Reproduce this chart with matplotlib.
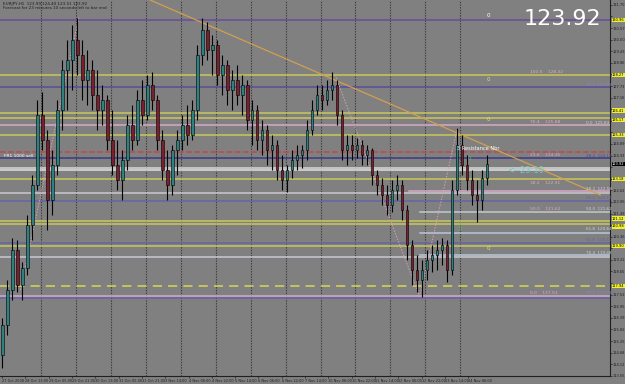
import numpy as np
import matplotlib
matplotlib.use("Agg")
import matplotlib.pyplot as plt

# candle data (EURJPY, one candle ~ 3.4 hours of the original H1 chart)
opens = [114.57, 116.03, 117.75, 119.70, 117.99, 118.82, 120.93, 122.89, 126.31, 125.09,
         122.15, 123.86, 126.56, 128.51, 129.00, 129.98, 129.25, 128.02, 128.51, 127.29,
         126.56, 127.05, 125.09, 123.86, 123.13, 124.11, 125.82, 125.09, 127.05, 126.31,
         127.78, 127.05, 125.09, 123.62, 122.89, 124.60, 125.09, 125.82, 125.33, 126.56,
         129.25, 130.47, 129.49, 129.74, 128.27, 128.76, 127.54, 128.02, 127.29, 127.78,
         126.07, 126.56, 125.09, 125.58, 124.60, 124.84, 123.62, 123.13, 123.62, 124.11,
         124.35, 124.60, 125.58, 126.56, 127.29, 127.05, 127.54, 127.78, 126.31, 124.60,
         124.84, 124.60, 124.84, 124.35, 124.60, 123.38, 122.89, 122.40, 121.91, 122.64,
         122.89, 121.66, 119.95, 118.73, 118.24, 118.73, 119.22, 119.46, 119.70, 119.95,
         118.73, 122.64, 124.84, 123.86, 123.13, 122.40, 122.15, 123.23]
highs = [116.38, 118.24, 120.29, 120.19, 119.12, 121.42, 123.38, 127.05, 127.44, 125.58,
         124.60, 127.05, 129.00, 129.98, 130.72, 131.06, 129.98, 129.49, 129.00, 128.51,
         127.78, 127.29, 126.56, 125.09, 124.60, 126.31, 126.80, 127.54, 128.02, 128.27,
         128.42, 127.29, 125.58, 124.60, 124.84, 125.58, 126.31, 126.80, 127.05, 129.74,
         131.06, 130.86, 130.23, 129.98, 129.25, 129.00, 128.51, 128.76, 128.27, 128.02,
         127.05, 126.80, 126.07, 125.82, 125.33, 125.09, 124.35, 123.86, 124.60, 124.84,
         124.84, 126.07, 127.05, 127.78, 127.78, 128.02, 128.42, 128.02, 126.56, 125.33,
         125.33, 125.19, 125.09, 124.84, 124.70, 123.62, 123.23, 122.89, 123.13, 123.38,
         123.13, 121.91, 120.19, 119.46, 119.22, 119.70, 119.95, 120.19, 120.29, 120.19,
         123.13, 125.68, 125.33, 124.35, 123.62, 123.13, 123.62, 124.35]
lows = [113.93, 115.55, 117.26, 117.65, 117.26, 118.48, 120.19, 122.64, 124.60, 120.68,
        121.42, 123.38, 125.58, 126.56, 127.54, 128.27, 127.05, 126.80, 126.56, 125.58,
        125.82, 124.60, 123.38, 122.64, 122.15, 123.62, 124.60, 124.84, 125.82, 126.07,
        126.56, 124.60, 123.13, 122.15, 122.40, 123.38, 124.60, 124.84, 125.09, 126.07,
        128.76, 129.00, 128.27, 127.78, 127.29, 126.80, 126.56, 126.80, 126.31, 125.58,
        124.84, 124.60, 124.35, 123.86, 123.62, 123.13, 122.64, 122.54, 123.23, 123.62,
        123.72, 124.11, 125.33, 126.31, 126.56, 126.80, 127.05, 125.82, 124.11, 123.86,
        124.11, 124.21, 123.86, 123.86, 122.89, 122.40, 121.91, 121.42, 121.56, 122.15,
        121.17, 119.22, 117.99, 117.65, 117.41, 118.24, 118.63, 118.73, 118.97, 118.14,
        118.48, 122.40, 123.38, 122.64, 121.91, 121.08, 121.66, 122.89]
closes = [116.03, 117.75, 119.70, 117.99, 118.82, 120.93, 122.89, 126.31, 125.09, 122.15,
          123.86, 126.56, 128.51, 129.00, 129.98, 129.25, 128.02, 128.51, 127.29, 126.56,
          127.05, 125.09, 123.86, 123.13, 124.11, 125.82, 125.09, 127.05, 126.31, 127.78,
          127.05, 125.09, 123.62, 122.89, 124.60, 125.09, 125.82, 125.33, 126.56, 129.25,
          130.47, 129.49, 129.74, 128.27, 128.76, 127.54, 128.02, 127.29, 127.78, 126.07,
          126.56, 125.09, 125.58, 124.60, 124.84, 123.62, 123.13, 123.62, 124.11, 124.35,
          124.60, 125.58, 126.56, 127.29, 127.05, 127.54, 127.78, 126.31, 124.60, 124.84,
          124.60, 124.84, 124.35, 124.60, 123.38, 122.89, 122.40, 121.91, 122.64, 122.89,
          121.66, 119.95, 118.73, 118.24, 118.73, 119.22, 119.46, 119.70, 119.95, 118.73,
          122.64, 124.84, 123.86, 123.13, 122.40, 122.15, 123.23, 123.91]
hours_per_candle = 3.43

# horizontal levels: price, colour, style, start hour
level_prices = [130.96, 128.27, 127.68, 126.41, 126.17, 125.82, 125.33, 124.50, 124.21,
                123.72, 123.62, 123.18, 122.59, 122.49, 122.10, 121.56, 121.12, 120.98,
                120.54, 120.05, 119.90, 119.46, 119.36, 117.94, 117.45, 117.38]
level_colors = ['#6a4a9c', '#c8c85a', '#5a4e9a', '#c8c85a', '#c8c85a', '#d8a8c8', '#c8c85a',
                '#c04848', '#3a3a8a', '#d8d8d8', '#e0e0e0', '#c8c85a', '#d8a8c8', '#c8c8d0',
                '#6464a8', '#c0c8d0', '#c8c85a', '#c8c85a', '#b8c8d8', '#6464a8', '#c8c85a',
                '#b8c8d8', '#c8c8d0', '#d8d850', '#d8a8c8', '#6464a8']
level_styles = ['-', '-', '-', '-', '-', '-', '-', '--', '-', '-', '-', '-', '-', '-',
                '-', '-', '-', '-', '-', '-', '-', '-', '-', (0, (6, 4)), '-', '-']
level_start = [0, 0, 0, 0, 0, 0, 0, 0, 0, 0, 0, 0, 281, 0, 0, 288, 0, 0, 288, 0, 0, 288,
               0, 0, 0, 0]
yellow_tags = [130.96, 128.27, 126.41, 126.17, 125.33, 123.18, 121.12, 120.98, 119.90, 117.94]
last_price = 123.92

# fibonacci labels
fib_left_pct = ['100.0', '76.4', '23.6', '38.2', '50.0', '0.0']
fib_left_price = [128.32, 125.88, 124.26, 122.91, 121.62, 117.51]
fib_right_pct = ['76.4', '0.0', '38.2', '38.2', '50.0', '50.0', '61.8', '61.8', '76.4', '76.4']
fib_right_price = [127.69, 125.84, 124.19, 122.58, 122.17, 121.62, 120.64, 120.10, 119.48, 117.49]
fib_right_colors = ['#8a80c8', '#d0d0d0', '#4a4aa0', '#d0d0d0', '#6464a8', '#d0d0d0',
                    '#d0d0d0', '#6464a8', '#d0d0d0', '#8a80c8']

# trend line and fibo diagonals (hour, price)
trend_x = [103, 412]
trend_y = [131.94, 122.40]
diag_x = [[14, 54], [230, 288], [288, 314]]
diag_y = [[117.75, 131.06], [128.27, 117.41], [117.41, 125.68]]

# time axis labels every 16 hours
date_labels = ['27 Oct 2008', '28 Oct 13:00', '29 Oct 05:00', '29 Oct 21:00', '30 Oct 13:00',
               '31 Oct 05:00', '31 Oct 21:00', '3 Nov 14:00', '4 Nov 06:00', '4 Nov 22:00',
               '5 Nov 14:00', '6 Nov 06:00', '6 Nov 22:00', '7 Nov 14:00', '10 Nov 06:00',
               '10 Nov 22:00', '11 Nov 14:00', '12 Nov 06:00', '12 Nov 22:00', '13 Nov 14:00',
               '14 Nov 06:00']

bg = '#808080'
fig = plt.figure(figsize=(6.25, 3.84), dpi=100, facecolor=bg)
ax = fig.add_axes([0, 8 / 384, 610 / 625, 376 / 384], facecolor=bg)
ax.set_xlim(0, 418.7)
ax.set_ylim(113.54, 131.94)

# vertical dotted grid, one per day
for gx in np.arange(28, 340, 24):
    ax.axvline(gx, color='#3a3a3a', lw=0.8, ls=(0, (1.2, 1.2)), zorder=1)

# horizontal levels
for p, c, s, x0 in zip(level_prices, level_colors, level_styles, level_start):
    ax.plot([x0, 418.7], [p, p], color=c, ls=s, lw=1.1, zorder=2)

ax.plot(trend_x, trend_y, color='#d2a050', lw=0.9, zorder=3)
for dx, dy in zip(diag_x, diag_y):
    ax.plot(dx, dy, color='#d8a0b8', lw=0.7, ls=(0, (1.5, 1.5)), zorder=3)

# candles
t = np.arange(len(opens)) * hours_per_candle + 1.7
o = np.array(opens)
c = np.array(closes)
ax.vlines(t, lows, highs, color='black', lw=0.8, zorder=4)
up = c >= o
body_lo = np.minimum(o, c)
body_h = np.maximum(np.abs(c - o), 0.04)
ax.bar(t[up], body_h[up], bottom=body_lo[up], width=1.6, color='#2f8080',
       edgecolor='black', lw=0.4, zorder=5)
ax.bar(t[~up], body_h[~up], bottom=body_lo[~up], width=1.6, color='#7a1f30',
       edgecolor='black', lw=0.4, zorder=5)

# fibo texts
for pct, pr in zip(fib_left_pct, fib_left_price):
    ax.text(364, pr, pct + '    ' + f'{pr:.2f}', color='#e0a8c8', fontsize=3.2,
            va='bottom', zorder=6)
for pct, pr, col in zip(fib_right_pct, fib_right_price, fib_right_colors):
    ax.text(402, pr, pct + '  ' + f'{pr:.2f}', color=col, fontsize=3.0,
            va='bottom', zorder=6)

ax.text(3, 124.25, 'FR1 1000 sell', color='white', fontsize=3.2, zorder=6)
ax.text(314, 124.62, '3 Resistance Nbr', color='white', fontsize=3.6, zorder=6)
ax.text(348, 123.45, '<--23:10', color='#6fc8c8', fontsize=6, zorder=6)
ax.text(0.985, 0.95, f'{last_price:.2f}', transform=ax.transAxes, color='white',
        fontsize=16, ha='right', va='center', zorder=7)
ax.text(0.005, 0.995, 'EURJPY,H1  123.99 124.40 123.51 123.92\n'
        'Forecast for 23 minutes 10 seconds left to bar end', transform=ax.transAxes,
        color='#202020', fontsize=3, va='top', linespacing=1.1, zorder=7)

# small markers near last candle
mark_y = [131.20, 128.05, 126.10, 124.20, 120.75, 119.80]
mark_x = [335, 335, 335, 322, 316, 335]
mark_c = ['white', '#e0e070', '#e0e070', '#60c060', '#60c060', '#e0e070']
for mx, my, mc in zip(mark_x, mark_y, mark_c):
    ax.text(mx, my, '0', color=mc, fontsize=4, ha='center', va='center', zorder=6)

# axes look like MT4
for side in ['top', 'left']:
    ax.spines[side].set_visible(False)
for side in ['right', 'bottom']:
    ax.spines[side].set_color('#202020')
    ax.spines[side].set_linewidth(0.8)
ax.yaxis.tick_right()
yt = np.linspace(113.55, 131.70, 33)
tagged = yellow_tags + [last_price]
ax.set_yticks(yt)
# scale labels hidden under the price tags, as on the terminal
ax.set_yticklabels(['' if min(abs(v - q) for q in tagged) < 0.33 else f'{v:.2f}' for v in yt])
ax.set_xticks(np.arange(len(date_labels)) * 16 + 1.4)
ax.set_xticklabels(date_labels)
ax.tick_params(axis='y', labelsize=2.6, colors='#202020', length=1.5, width=0.5, pad=0.5)
ax.tick_params(axis='x', labelsize=2.5, colors='#202020', length=1.5, width=0.5, pad=0.5)
for lbl in ax.get_xticklabels():
    lbl.set_ha('left')

# highlighted price tags on the scale
tag_shift = [0, 0, 1.6, -1.6, 0, 0, 1.8, -1.8, 0, 0]
for p, sh in zip(yellow_tags, tag_shift):
    ax.annotate(f'{p:.2f}', xy=(1.0, p), xycoords=('axes fraction', 'data'),
                xytext=(1.5, sh), textcoords='offset points', fontsize=2.6, va='center',
                color='black', bbox=dict(boxstyle='square,pad=0.1', fc='#f0f030', ec='none'),
                annotation_clip=False, zorder=8)
ax.annotate(f'{last_price:.2f}', xy=(1.0, last_price), xycoords=('axes fraction', 'data'),
            xytext=(1.5, 0), textcoords='offset points', fontsize=2.6, va='center',
            color='white', bbox=dict(boxstyle='square,pad=0.1', fc='black', ec='none'),
            annotation_clip=False, zorder=8)

fig.savefig('out.png', dpi=100, facecolor=bg)
